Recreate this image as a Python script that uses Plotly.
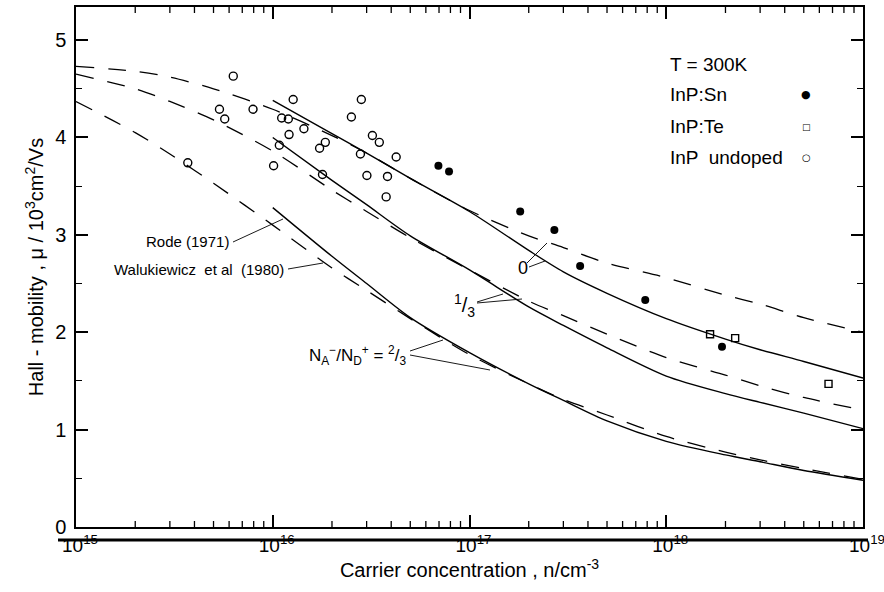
import plotly.graph_objects as go

# ---------------- data ----------------
# Theoretical curves: concentration grid (cm^-3) and Hall mobility (10^3 cm^2/Vs)
n_walukiewicz = [1e15, 2e15, 3e15, 5e15, 1e16, 2e16, 3e16, 5e16, 1e17, 2e17, 3e17, 5e17,
                 1e18, 2e18, 3e18, 5e18, 1e19]
walukiewicz_0 = [4.73, 4.68, 4.62, 4.50, 4.29, 4.02, 3.84, 3.58, 3.25, 2.99, 2.87, 2.71,
                 2.56, 2.38, 2.29, 2.15, 2.00]
walukiewicz_13 = [4.65, 4.50, 4.37, 4.18, 3.86, 3.46, 3.24, 2.97, 2.64, 2.32, 2.17, 1.98,
                  1.74, 1.56, 1.45, 1.33, 1.20]
walukiewicz_23 = [4.37, 4.05, 3.83, 3.53, 3.10, 2.66, 2.43, 2.14, 1.77, 1.47, 1.31, 1.15,
                  0.93, 0.77, 0.69, 0.60, 0.49]

n_rode = [1e16, 2e16, 3e16, 5e16, 1e17, 2e17, 3e17, 5e17, 1e18, 2e18, 3e18, 5e18, 1e19]
rode_0 = [4.38, 4.04, 3.84, 3.58, 3.24, 2.84, 2.62, 2.40, 2.14, 1.93, 1.82, 1.70, 1.53]
rode_13 = [4.00, 3.56, 3.31, 2.99, 2.64, 2.26, 2.07, 1.84, 1.55, 1.37, 1.28, 1.17, 1.01]
rode_23 = [3.28, 2.78, 2.50, 2.15, 1.79, 1.47, 1.30, 1.09, 0.88, 0.74, 0.67, 0.58, 0.48]

# Measurements
n_undoped = [6.30e15, 5.36e15, 5.70e15, 7.94e15, 1.27e16, 1.11e16, 1.20e16, 1.44e16,
             1.21e16, 1.08e16, 1.01e16, 3.70e15, 1.85e16, 1.73e16, 1.79e16, 2.51e16,
             2.82e16, 3.21e16, 3.48e16, 2.79e16, 4.24e16, 3.01e16, 3.83e16, 3.77e16]
mu_undoped = [4.63, 4.29, 4.19, 4.29, 4.39, 4.20, 4.19, 4.09, 4.03, 3.92, 3.71, 3.74,
              3.95, 3.89, 3.62, 4.21, 4.39, 4.02, 3.95, 3.83, 3.80, 3.61, 3.60, 3.39]

n_sn = [6.95e16, 7.87e16, 1.81e17, 2.70e17, 3.65e17, 7.82e17, 1.92e18]
mu_sn = [3.71, 3.65, 3.24, 3.05, 2.68, 2.33, 1.85]

n_te = [1.67e18, 2.24e18, 6.68e18]
mu_te = [1.98, 1.94, 1.47]

# Axis ticks
x_tickvals = [1e15, 1e16, 1e17, 1e18, 1e19]
x_ticktext = ["10<sup>15</sup>", "10<sup>16</sup>", "10<sup>17</sup>", "10<sup>18</sup>", "10<sup>19</sup>"]
x_minor = [m * 10 ** e for e in range(15, 19) for m in range(2, 10)]

# ---------------- figure ----------------
FONT = "Liberation Sans, Arial, sans-serif"
W, H = 884, 592
L, R, T, B = 76, 21, 7, 65
PW, PH = W - L - R, H - T - B


def px(x):
    return (x - L) / PW


def py(y):
    return (H - B - y) / PH


fig = go.Figure()

dash = "18px,14px"
for y in (walukiewicz_0, walukiewicz_13, walukiewicz_23):
    fig.add_trace(go.Scatter(x=n_walukiewicz, y=y, mode="lines",
                             line=dict(color="black", width=1.3, dash=dash, shape="spline", smoothing=0.8),
                             hoverinfo="skip"))
for y in (rode_0, rode_13, rode_23):
    fig.add_trace(go.Scatter(x=n_rode, y=y, mode="lines",
                             line=dict(color="black", width=1.4, shape="spline", smoothing=0.8),
                             hoverinfo="skip"))

fig.add_trace(go.Scatter(x=n_undoped, y=mu_undoped, mode="markers", name="InP undoped",
                         marker=dict(symbol="circle-open", size=8, color="black", line=dict(width=1.4))))
fig.add_trace(go.Scatter(x=n_sn, y=mu_sn, mode="markers", name="InP:Sn",
                         marker=dict(symbol="circle", size=8, color="black")))
fig.add_trace(go.Scatter(x=n_te, y=mu_te, mode="markers", name="InP:Te",
                         marker=dict(symbol="square-open", size=7, color="black", line=dict(width=1.4))))

fig.update_layout(
    width=W, height=H, margin=dict(l=L, r=R, t=T, b=B, autoexpand=False),
    paper_bgcolor="white", plot_bgcolor="white", showlegend=False,
    font=dict(family=FONT, color="black", size=19),
)

fig.update_xaxes(
    type="log", range=[15, 19], showgrid=False, zeroline=False, automargin=False,
    showline=True, linecolor="black", linewidth=1.5, mirror="allticks", layer="above traces",
    ticks="inside", ticklen=12, tickwidth=1.5, tickcolor="black",
    tickmode="array", tickvals=x_tickvals, ticktext=x_ticktext,
    tickfont=dict(size=19), ticklabelstandoff=0, ticklabelshift=4, ticklabeloverflow="allow",
    title=dict(text="Carrier concentration , n/cm<sup>-3</sup>", font=dict(size=20), standoff=8),
)
fig.update_yaxes(
    range=[0, 5.34], showgrid=False, zeroline=False, automargin=False,
    showline=True, linecolor="black", linewidth=1.5, mirror="allticks", layer="above traces",
    ticks="inside", ticklen=12, tickwidth=1.5, tickcolor="black",
    tick0=0, dtick=1, tickfont=dict(size=20), ticklabelstandoff=4,
    minor=dict(ticks="inside", ticklen=6, tickwidth=1.3, tickcolor="black", dtick=0.5, showgrid=False),
    title=dict(text="Hall - mobility , μ / 10<sup>3</sup>cm<sup>2</sup>/Vs", font=dict(size=20), standoff=6),
)

ann = []


def text(x, y, s, size=19, xanchor="left", family=FONT):
    ann.append(dict(xref="paper", yref="paper", x=px(x), y=py(y), text=s, showarrow=False,
                    xanchor=xanchor, yanchor="middle", font=dict(size=size, family=family, color="black")))


# legend block
text(668, 64, "T = 300K")
text(668, 95, "InP:Sn")
text(668, 127, "InP:Te")
text(668, 158, "InP  undoped")
text(806, 95, "●", size=11, xanchor="center", family="DejaVu Sans")
text(806, 127, "□", size=9, xanchor="center", family="DejaVu Sans")
text(806, 158, "○", size=10, xanchor="center", family="DejaVu Sans")

# curve labels
text(231, 242, "Rode (1971)", size=15, xanchor="right")
text(286, 269, "Walukiewicz  et al  (1980)", size=15, xanchor="right")
text(408, 355, "N<sub>A</sub><sup>−</sup>/N<sub>D</sub><sup>+</sup> = <sup>2</sup>/<sub>3</sub>",
     size=17, xanchor="right")
text(523, 268, "0", size=18, xanchor="center")
text(464, 305, "<sup>1</sup>/<sub>3</sub>", size=20, xanchor="center")
fig.update_layout(annotations=ann)

shapes = []


def seg(x0, y0, x1, y1, w=0.9):
    shapes.append(dict(type="line", xref="paper", yref="paper", x0=px(x0), y0=py(y0),
                       x1=px(x1), y1=py(y1), line=dict(color="black", width=w)))


seg(233, 242, 283, 219)
seg(288, 269, 323, 263)
seg(527, 263, 547, 243)
seg(529, 267, 545, 261)
seg(477, 302, 503, 294)
seg(477, 303, 522, 299)
seg(410, 351, 443, 340)
seg(410, 355, 490, 370)
# heavy rule under the frame
seg(58, 540, 868, 540, w=3)

# minor x ticks (2..9 per decade), inside, on bottom and top edges, placed on the x data scale
tick_h = 6 / PH
for v in x_minor:
    shapes.append(dict(type="line", xref="x", yref="paper", x0=v, x1=v, y0=0, y1=tick_h,
                       line=dict(color="black", width=1.3)))
    shapes.append(dict(type="line", xref="x", yref="paper", x0=v, x1=v, y0=1, y1=1 - tick_h,
                       line=dict(color="black", width=1.3)))
fig.update_layout(shapes=shapes)

fig.write_html("out.html", post_script="document.body.style.margin='0';",
               config={"displayModeBar": False})
